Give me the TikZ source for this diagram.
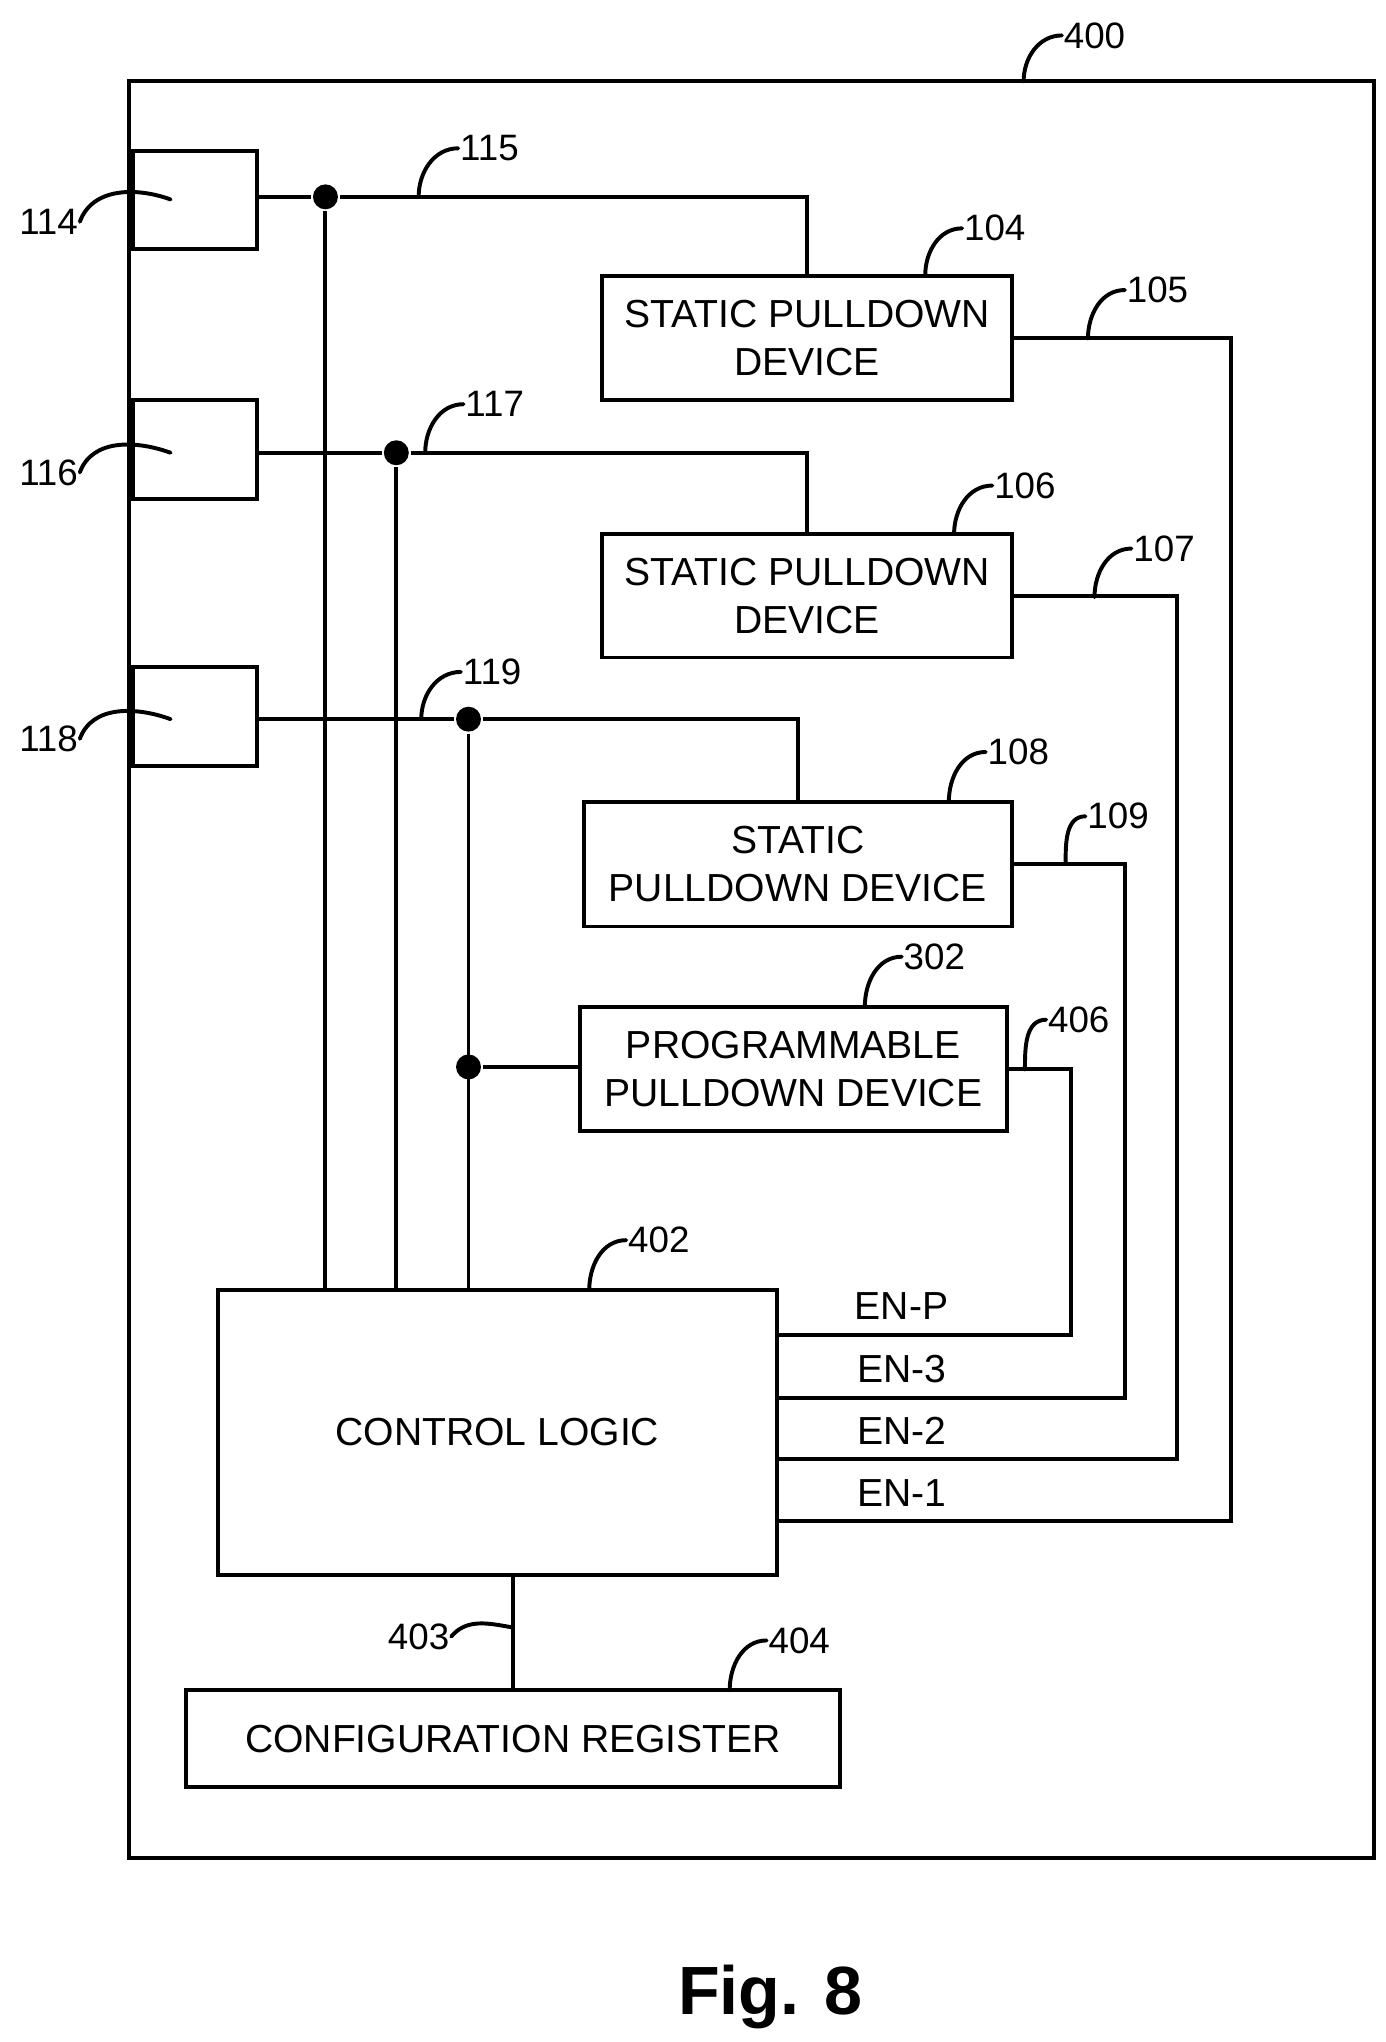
\documentclass[tikz,border=0pt]{standalone}
\usepackage{fontspec}
\setmainfont{Liberation Sans}
\begin{document}
\begin{tikzpicture}
         [x=.5pt,y=-.5pt,line width=1.5pt,
          every node/.style={inner sep=0pt,align=center,font=\fontsize{14.9}{18.4}\selectfont},
          box/.style={draw,line width=1.5pt},
          dot/.style={circle,fill=black,minimum size=9.5pt},
          leader/.style={line width=1.5pt,line cap=round},
          refnum/.style={font=\fontsize{14}{16}\selectfont}]
         \useasboundingbox (0,0) rectangle (1056,1556);
         \node[box,minimum width=474.5pt,minimum height=677pt] (chip) at (572.5,739) {};
         % pads
         \node[box,minimum width=47.5pt,minimum height=37.5pt] (pad114) at (148.5,152.5) {};
         \node[box,minimum width=47.5pt,minimum height=37.5pt] (pad116) at (148.5,342.5) {};
         \node[box,minimum width=47.5pt,minimum height=37.5pt] (pad118) at (148.5,546) {};
         % blocks
         \node[box,minimum width=156pt,minimum height=47.5pt] (dev104) at (615,257.5) {STATIC PULLDOWN\\DEVICE};
         \node[box,minimum width=156pt,minimum height=47pt] (dev106) at (615,454) {STATIC PULLDOWN\\DEVICE};
         \node[box,minimum width=163pt,minimum height=47.5pt] (dev108) at (608,658.5) {STATIC\\PULLDOWN DEVICE};
         \node[box,minimum width=162.5pt,minimum height=47.5pt] (dev302) at (604.5,814.5) {PROGRAMMABLE\\PULLDOWN DEVICE};
         \node[box,minimum width=213pt,minimum height=108.5pt] (logic) at (379,1091.5) {CONTROL LOGIC};
         \node[box,minimum width=249pt,minimum height=37pt] (config) at (391,1325) {CONFIGURATION REGISTER};
         % junctions
         \node[dot] (dot114) at (248,150) {};
         \node[dot] (dot116) at (302,345) {};
         \node[dot] (dot118) at (357,548) {};
         \node[dot] (dot302) at (357,813) {};
         \foreach \pad/\jn/\dev in {pad114/dot114/dev104, pad116/dot116/dev106, pad118/dot118/dev108}
            \draw (\pad.east |- \jn) -- (\jn) -| (\dev.north);
         \foreach \jn in {dot114, dot116, dot118}
            \draw (\jn) -- (\jn |- logic.north);
         \draw (dot302) -- (dot302 -| dev302.west);
         % enable lines
         \coordinate (enp) at (816,1017);
         \coordinate (en3) at (857,1065);
         \coordinate (en2) at (897,1112);
         \coordinate (en1) at (938,1159);
         \foreach \dev/\en in {dev302/enp, dev108/en3, dev106/en2, dev104/en1}
            \draw (\dev.east) -| (\en) -- (logic.east |- \en);
         \draw (logic.south -| config.north) -- (config.north);
         \node (labp) at (687,995) {EN-P};
         \node (lab3) at (687,1043) {EN-3};
         \node (lab2) at (687,1090) {EN-2};
         \node (lab1) at (687,1138) {EN-1};
         % reference numbers
         \foreach \num/\lx/\ly/\cx/\cy in {400/834/27/780/62, 115/373/113/319/150, 117/377/308/324/345,
         119/375/512/321/548, 104/758/174/705/210, 105/882/221/829/258, 106/781/370/727/407,
         107/887/418/834/455, 108/776/573/723/611, 109/852/622/812/658, 302/712/729/659/767,
         406/822/777/781/815, 402/502/945/449/983, 404/609/1250/556/1288} {
            \node[refnum] (l\num) at (\lx,\ly) {\num};
            \coordinate (c\num) at (\cx,\cy);
            \draw[leader] (l\num.west) to[out=180,in=90] (c\num);
         }
         \foreach \num/\ly/\cy in {114/169/152, 116/360/345, 118/563/548} {
            \node[refnum] (l\num) at (37,\ly) {\num};
            \coordinate (c\num) at (130,\cy);
            \draw[leader] (l\num.east) to[out=70,in=160] (c\num);
         }
         \node[refnum] (l403) at (319,1247) {403};
         \coordinate (c403) at (390,1240);
         \draw[leader] (l403.east) to[out=50,in=170] (c403);
         \node[font=\fontsize{26}{30}\selectfont\bfseries] (fig) at (587,1522) {Fig. 8};
       \end{tikzpicture}
\end{document}
